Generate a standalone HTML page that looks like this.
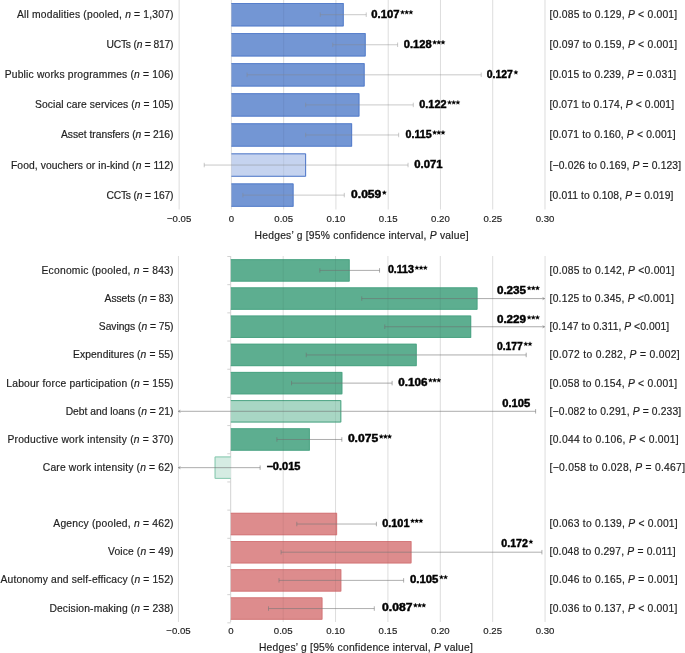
<!DOCTYPE html><html><head><meta charset="utf-8"><style>html,body{margin:0;padding:0;background:#fff;width:685px;height:653px;overflow:hidden}svg{display:block;will-change:transform}text{font-family:"Liberation Sans",sans-serif}</style></head><body>
<svg width="685" height="653" viewBox="0 0 685 653">
<g stroke="#dddddd" stroke-opacity="1" stroke-width="1">
<line x1="179.13" y1="0" x2="179.13" y2="209.5"/>
<line x1="231.40" y1="0" x2="231.40" y2="209.5"/>
<line x1="283.67" y1="0" x2="283.67" y2="209.5"/>
<line x1="335.93" y1="0" x2="335.93" y2="209.5"/>
<line x1="388.19" y1="0" x2="388.19" y2="209.5"/>
<line x1="440.46" y1="0" x2="440.46" y2="209.5"/>
<line x1="492.73" y1="0" x2="492.73" y2="209.5"/>
<line x1="544.99" y1="0" x2="544.99" y2="209.5"/>
</g>
<rect x="231.40" y="3.00" width="112.35" height="23.40" fill="#7396d4"/>
<path d="M231.40,3.50H343.25V25.90H231.40" stroke="#4f78c8" stroke-width="1" fill="none" stroke-opacity="0.8"/>
<rect x="231.40" y="33.07" width="134.30" height="23.40" fill="#7396d4"/>
<path d="M231.40,33.57H365.20V55.97H231.40" stroke="#4f78c8" stroke-width="1" fill="none" stroke-opacity="0.8"/>
<rect x="231.40" y="63.14" width="133.25" height="23.40" fill="#7396d4"/>
<path d="M231.40,63.64H364.15V86.04H231.40" stroke="#4f78c8" stroke-width="1" fill="none" stroke-opacity="0.8"/>
<rect x="231.40" y="93.21" width="128.03" height="23.40" fill="#7396d4"/>
<path d="M231.40,93.71H358.93V116.11H231.40" stroke="#4f78c8" stroke-width="1" fill="none" stroke-opacity="0.8"/>
<rect x="231.40" y="123.28" width="120.71" height="23.40" fill="#7396d4"/>
<path d="M231.40,123.78H351.61V146.18H231.40" stroke="#4f78c8" stroke-width="1" fill="none" stroke-opacity="0.8"/>
<rect x="231.40" y="153.35" width="74.72" height="23.40" fill="#c5d3ef"/>
<path d="M231.40,153.85H305.62V176.25H231.40" fill="none" stroke="#4f78c8" stroke-width="1"/>
<rect x="231.40" y="183.42" width="62.17" height="23.40" fill="#7396d4"/>
<path d="M231.40,183.92H293.07V206.32H231.40" stroke="#4f78c8" stroke-width="1" fill="none" stroke-opacity="0.8"/>
<clipPath id="c1"><rect x="231.40" y="3.00" width="112.35" height="23.40"/><rect x="231.40" y="33.07" width="134.30" height="23.40"/><rect x="231.40" y="63.14" width="133.25" height="23.40"/><rect x="231.40" y="93.21" width="128.03" height="23.40"/><rect x="231.40" y="123.28" width="120.71" height="23.40"/><rect x="231.40" y="153.35" width="74.72" height="23.40"/><rect x="231.40" y="183.42" width="62.17" height="23.40"/></clipPath>
<g stroke="#000" stroke-opacity="0.06" stroke-width="1" clip-path="url(#c1)">
<line x1="179.13" y1="0" x2="179.13" y2="209.5"/>
<line x1="231.40" y1="0" x2="231.40" y2="209.5"/>
<line x1="283.67" y1="0" x2="283.67" y2="209.5"/>
<line x1="335.93" y1="0" x2="335.93" y2="209.5"/>
<line x1="388.19" y1="0" x2="388.19" y2="209.5"/>
<line x1="440.46" y1="0" x2="440.46" y2="209.5"/>
<line x1="492.73" y1="0" x2="492.73" y2="209.5"/>
<line x1="544.99" y1="0" x2="544.99" y2="209.5"/>
</g>
<path d="M320.25,14.70H366.24M320.25,12.45V16.95M366.24,12.45V16.95" fill="none" stroke="#888" stroke-opacity="0.45" stroke-width="1"/>
<path d="M332.79,44.77H397.60M332.79,42.52V47.02M397.60,42.52V47.02" fill="none" stroke="#888" stroke-opacity="0.45" stroke-width="1"/>
<path d="M247.08,74.84H481.23M247.08,72.59V77.09M481.23,72.59V77.09" fill="none" stroke="#888" stroke-opacity="0.45" stroke-width="1"/>
<path d="M305.62,104.91H413.28M305.62,102.66V107.16M413.28,102.66V107.16" fill="none" stroke="#888" stroke-opacity="0.45" stroke-width="1"/>
<path d="M305.62,134.98H398.65M305.62,132.73V137.23M398.65,132.73V137.23" fill="none" stroke="#888" stroke-opacity="0.45" stroke-width="1"/>
<path d="M204.22,165.05H408.06M204.22,162.80V167.30M408.06,162.80V167.30" fill="none" stroke="#888" stroke-opacity="0.45" stroke-width="1"/>
<path d="M242.90,195.12H344.29M242.90,192.87V197.37M344.29,192.87V197.37" fill="none" stroke="#888" stroke-opacity="0.45" stroke-width="1"/>
<text x="173.50" y="18.20" font-size="10.3" text-anchor="end" stroke="#1e1e1e" stroke-width="0.18" fill="#1e1e1e" textLength="156.5" lengthAdjust="spacing">All modalities (pooled, <tspan font-style='italic'>n</tspan> = 1,307)</text>
<text x="371.30" y="17.90" font-size="10.5" font-weight="bold" stroke="#000" stroke-width="0.45" fill="#000" textLength="28.2" lengthAdjust="spacingAndGlyphs">0.107</text>
<path d="M402.50,10.00L403.12,11.45L404.69,11.59L403.50,12.62L403.85,14.16L402.50,13.35L401.15,14.16L401.50,12.62L400.31,11.59L401.88,11.45ZM406.70,10.00L407.32,11.45L408.89,11.59L407.70,12.62L408.05,14.16L406.70,13.35L405.35,14.16L405.70,12.62L404.51,11.59L406.08,11.45ZM410.90,10.00L411.52,11.45L413.09,11.59L411.90,12.62L412.25,14.16L410.90,13.35L409.55,14.16L409.90,12.62L408.71,11.59L410.28,11.45Z" fill="#000" stroke="#000" stroke-width="0.25" stroke-linejoin="round"/>
<text x="549.60" y="18.20" font-size="10.3" stroke="#1e1e1e" stroke-width="0.18" fill="#1e1e1e" textLength="127.6" lengthAdjust="spacing">[0.085 to 0.129, <tspan font-style='italic'>P</tspan> &lt; 0.001]</text>
<text x="173.50" y="48.27" font-size="10.3" text-anchor="end" stroke="#1e1e1e" stroke-width="0.18" fill="#1e1e1e" textLength="67.1" lengthAdjust="spacing">UCTs (<tspan font-style='italic'>n</tspan> = 817)</text>
<text x="403.80" y="47.97" font-size="10.5" font-weight="bold" stroke="#000" stroke-width="0.45" fill="#000" textLength="27.8" lengthAdjust="spacingAndGlyphs">0.128</text>
<path d="M434.60,40.07L435.22,41.52L436.79,41.66L435.60,42.69L435.95,44.23L434.60,43.42L433.25,44.23L433.60,42.69L432.41,41.66L433.98,41.52ZM438.80,40.07L439.42,41.52L440.99,41.66L439.80,42.69L440.15,44.23L438.80,43.42L437.45,44.23L437.80,42.69L436.61,41.66L438.18,41.52ZM443.00,40.07L443.62,41.52L445.19,41.66L444.00,42.69L444.35,44.23L443.00,43.42L441.65,44.23L442.00,42.69L440.81,41.66L442.38,41.52Z" fill="#000" stroke="#000" stroke-width="0.25" stroke-linejoin="round"/>
<text x="549.60" y="48.27" font-size="10.3" stroke="#1e1e1e" stroke-width="0.18" fill="#1e1e1e" textLength="127.6" lengthAdjust="spacing">[0.097 to 0.159, <tspan font-style='italic'>P</tspan> &lt; 0.001]</text>
<text x="173.50" y="78.34" font-size="10.3" text-anchor="end" stroke="#1e1e1e" stroke-width="0.18" fill="#1e1e1e" textLength="168.8" lengthAdjust="spacing">Public works programmes (<tspan font-style='italic'>n</tspan> = 106)</text>
<text x="486.80" y="78.04" font-size="10.5" font-weight="bold" stroke="#000" stroke-width="0.45" fill="#000" textLength="26.1" lengthAdjust="spacingAndGlyphs">0.127</text>
<path d="M515.90,70.14L516.52,71.59L518.09,71.73L516.90,72.76L517.25,74.30L515.90,73.49L514.55,74.30L514.90,72.76L513.71,71.73L515.28,71.59Z" fill="#000" stroke="#000" stroke-width="0.25" stroke-linejoin="round"/>
<text x="549.60" y="78.34" font-size="10.3" stroke="#1e1e1e" stroke-width="0.18" fill="#1e1e1e" textLength="126.6" lengthAdjust="spacing">[0.015 to 0.239, <tspan font-style='italic'>P</tspan> = 0.031]</text>
<text x="173.50" y="108.41" font-size="10.3" text-anchor="end" stroke="#1e1e1e" stroke-width="0.18" fill="#1e1e1e" textLength="138.5" lengthAdjust="spacing">Social care services (<tspan font-style='italic'>n</tspan> = 105)</text>
<text x="419.30" y="108.11" font-size="10.5" font-weight="bold" stroke="#000" stroke-width="0.45" fill="#000" textLength="27.2" lengthAdjust="spacingAndGlyphs">0.122</text>
<path d="M449.50,100.21L450.12,101.66L451.69,101.80L450.50,102.83L450.85,104.37L449.50,103.56L448.15,104.37L448.50,102.83L447.31,101.80L448.88,101.66ZM453.70,100.21L454.32,101.66L455.89,101.80L454.70,102.83L455.05,104.37L453.70,103.56L452.35,104.37L452.70,102.83L451.51,101.80L453.08,101.66ZM457.90,100.21L458.52,101.66L460.09,101.80L458.90,102.83L459.25,104.37L457.90,103.56L456.55,104.37L456.90,102.83L455.71,101.80L457.28,101.66Z" fill="#000" stroke="#000" stroke-width="0.25" stroke-linejoin="round"/>
<text x="549.60" y="108.41" font-size="10.3" stroke="#1e1e1e" stroke-width="0.18" fill="#1e1e1e" textLength="124.4" lengthAdjust="spacing">[0.071 to 0.174, <tspan font-style='italic'>P</tspan> &lt; 0.001]</text>
<text x="173.50" y="138.48" font-size="10.3" text-anchor="end" stroke="#1e1e1e" stroke-width="0.18" fill="#1e1e1e" textLength="112.5" lengthAdjust="spacing">Asset transfers (<tspan font-style='italic'>n</tspan> = 216)</text>
<text x="405.50" y="138.18" font-size="10.5" font-weight="bold" stroke="#000" stroke-width="0.45" fill="#000" textLength="26.1" lengthAdjust="spacingAndGlyphs">0.115</text>
<path d="M434.60,130.28L435.22,131.73L436.79,131.87L435.60,132.90L435.95,134.44L434.60,133.63L433.25,134.44L433.60,132.90L432.41,131.87L433.98,131.73ZM438.80,130.28L439.42,131.73L440.99,131.87L439.80,132.90L440.15,134.44L438.80,133.63L437.45,134.44L437.80,132.90L436.61,131.87L438.18,131.73ZM443.00,130.28L443.62,131.73L445.19,131.87L444.00,132.90L444.35,134.44L443.00,133.63L441.65,134.44L442.00,132.90L440.81,131.87L442.38,131.73Z" fill="#000" stroke="#000" stroke-width="0.25" stroke-linejoin="round"/>
<text x="549.60" y="138.48" font-size="10.3" stroke="#1e1e1e" stroke-width="0.18" fill="#1e1e1e" textLength="126.0" lengthAdjust="spacing">[0.071 to 0.160, <tspan font-style='italic'>P</tspan> &lt; 0.001]</text>
<text x="173.50" y="168.55" font-size="10.3" text-anchor="end" stroke="#1e1e1e" stroke-width="0.18" fill="#1e1e1e" textLength="162.5" lengthAdjust="spacing">Food, vouchers or in-kind (<tspan font-style='italic'>n</tspan> = 112)</text>
<text x="414.30" y="168.25" font-size="10.5" font-weight="bold" stroke="#000" stroke-width="0.45" fill="#000" textLength="28.3" lengthAdjust="spacingAndGlyphs">0.071</text>
<text x="549.60" y="168.55" font-size="10.3" stroke="#1e1e1e" stroke-width="0.18" fill="#1e1e1e" textLength="131.5" lengthAdjust="spacing">[−0.026 to 0.169, <tspan font-style='italic'>P</tspan> = 0.123]</text>
<text x="173.50" y="198.62" font-size="10.3" text-anchor="end" stroke="#1e1e1e" stroke-width="0.18" fill="#1e1e1e" textLength="67.1" lengthAdjust="spacing">CCTs (<tspan font-style='italic'>n</tspan> = 167)</text>
<text x="351.10" y="198.32" font-size="10.5" font-weight="bold" stroke="#000" stroke-width="0.45" fill="#000" textLength="30.2" lengthAdjust="spacingAndGlyphs">0.059</text>
<path d="M384.30,190.42L384.92,191.87L386.49,192.01L385.30,193.04L385.65,194.58L384.30,193.77L382.95,194.58L383.30,193.04L382.11,192.01L383.68,191.87Z" fill="#000" stroke="#000" stroke-width="0.25" stroke-linejoin="round"/>
<text x="549.60" y="198.62" font-size="10.3" stroke="#1e1e1e" stroke-width="0.18" fill="#1e1e1e" textLength="123.8" lengthAdjust="spacing">[0.011 to 0.108, <tspan font-style='italic'>P</tspan> = 0.019]</text>
<text x="179.13" y="221.70" font-size="9.6" text-anchor="middle" stroke="#1e1e1e" stroke-width="0.18" fill="#1e1e1e">−0.05</text>
<text x="231.40" y="221.70" font-size="9.6" text-anchor="middle" stroke="#1e1e1e" stroke-width="0.18" fill="#1e1e1e">0</text>
<text x="283.67" y="221.70" font-size="9.6" text-anchor="middle" stroke="#1e1e1e" stroke-width="0.18" fill="#1e1e1e">0.05</text>
<text x="335.93" y="221.70" font-size="9.6" text-anchor="middle" stroke="#1e1e1e" stroke-width="0.18" fill="#1e1e1e">0.10</text>
<text x="388.19" y="221.70" font-size="9.6" text-anchor="middle" stroke="#1e1e1e" stroke-width="0.18" fill="#1e1e1e">0.15</text>
<text x="440.46" y="221.70" font-size="9.6" text-anchor="middle" stroke="#1e1e1e" stroke-width="0.18" fill="#1e1e1e">0.20</text>
<text x="492.73" y="221.70" font-size="9.6" text-anchor="middle" stroke="#1e1e1e" stroke-width="0.18" fill="#1e1e1e">0.25</text>
<text x="544.99" y="221.70" font-size="9.6" text-anchor="middle" stroke="#1e1e1e" stroke-width="0.18" fill="#1e1e1e">0.30</text>
<text x="361.60" y="239.00" font-size="10.3" text-anchor="middle" stroke="#1e1e1e" stroke-width="0.18" fill="#1e1e1e" textLength="214.0" lengthAdjust="spacing">Hedges’ g [95% confidence interval, <tspan font-style='italic'>P</tspan> value]</text>
<g stroke="#dddddd" stroke-opacity="1" stroke-width="1">
<line x1="178.43" y1="256" x2="178.43" y2="622"/>
<line x1="283.18" y1="256" x2="283.18" y2="622"/>
<line x1="335.55" y1="256" x2="335.55" y2="622"/>
<line x1="387.93" y1="256" x2="387.93" y2="622"/>
<line x1="440.30" y1="256" x2="440.30" y2="622"/>
<line x1="492.68" y1="256" x2="492.68" y2="622"/>
<line x1="545.05" y1="256" x2="545.05" y2="622"/>
</g>
<path d="M230.70,256V622M227.3,256.50H230.80M227.3,284.68H230.80M227.3,312.86H230.80M227.3,341.04H230.80M227.3,369.22H230.80M227.3,397.40H230.80M227.3,425.58H230.80M227.3,453.76H230.80M227.3,481.94H230.80M227.3,510.12H230.80M227.3,538.30H230.80M227.3,566.48H230.80M227.3,594.66H230.80M227.3,622.84H230.80" stroke="#d2d2d2" stroke-width="1" fill="none"/>
<rect x="230.80" y="259.20" width="118.87" height="22.40" fill="#5dae90"/>
<path d="M230.80,259.70H349.17V281.10H230.80" stroke="#4aa382" stroke-width="1" fill="none" stroke-opacity="0.8"/>
<rect x="230.80" y="287.38" width="246.66" height="22.40" fill="#5dae90"/>
<path d="M230.80,287.88H476.96V309.28H230.80" stroke="#4aa382" stroke-width="1" fill="none" stroke-opacity="0.8"/>
<rect x="230.80" y="315.56" width="240.38" height="22.40" fill="#5dae90"/>
<path d="M230.80,316.06H470.68V337.46H230.80" stroke="#4aa382" stroke-width="1" fill="none" stroke-opacity="0.8"/>
<rect x="230.80" y="343.74" width="185.91" height="22.40" fill="#5dae90"/>
<path d="M230.80,344.24H416.21V365.64H230.80" stroke="#4aa382" stroke-width="1" fill="none" stroke-opacity="0.8"/>
<rect x="230.80" y="371.92" width="111.54" height="22.40" fill="#5dae90"/>
<path d="M230.80,372.42H341.84V393.82H230.80" stroke="#4aa382" stroke-width="1" fill="none" stroke-opacity="0.8"/>
<rect x="230.80" y="400.10" width="110.49" height="22.40" fill="#a8d6c4"/>
<path d="M230.80,400.60H340.79V422.00H230.80" fill="none" stroke="#4fa585" stroke-width="1"/>
<rect x="230.80" y="428.28" width="79.06" height="22.40" fill="#5dae90"/>
<path d="M230.80,428.78H309.36V450.18H230.80" stroke="#4aa382" stroke-width="1" fill="none" stroke-opacity="0.8"/>
<rect x="214.59" y="456.46" width="16.21" height="22.40" fill="#d5ece3"/>
<path d="M230.80,456.96H215.09V478.36H230.80" fill="none" stroke="#86c8ae" stroke-width="1"/>
<rect x="230.80" y="512.82" width="106.30" height="22.40" fill="#dd8c8d"/>
<path d="M230.80,513.32H336.60V534.72H230.80" stroke="#d27477" stroke-width="1" fill="none" stroke-opacity="0.8"/>
<rect x="230.80" y="541.00" width="180.67" height="22.40" fill="#dd8c8d"/>
<path d="M230.80,541.50H410.97V562.90H230.80" stroke="#d27477" stroke-width="1" fill="none" stroke-opacity="0.8"/>
<rect x="230.80" y="569.18" width="110.49" height="22.40" fill="#dd8c8d"/>
<path d="M230.80,569.68H340.79V591.08H230.80" stroke="#d27477" stroke-width="1" fill="none" stroke-opacity="0.8"/>
<rect x="230.80" y="597.36" width="91.63" height="22.40" fill="#dd8c8d"/>
<path d="M230.80,597.86H321.93V619.26H230.80" stroke="#d27477" stroke-width="1" fill="none" stroke-opacity="0.8"/>
<clipPath id="c2"><rect x="230.30" y="259.20" width="119.37" height="22.40"/><rect x="230.30" y="287.38" width="247.16" height="22.40"/><rect x="230.30" y="315.56" width="240.88" height="22.40"/><rect x="230.30" y="343.74" width="186.41" height="22.40"/><rect x="230.30" y="371.92" width="112.04" height="22.40"/><rect x="230.30" y="400.10" width="110.99" height="22.40"/><rect x="230.30" y="428.28" width="79.56" height="22.40"/><rect x="214.59" y="456.46" width="16.71" height="22.40"/><rect x="230.30" y="512.82" width="106.80" height="22.40"/><rect x="230.30" y="541.00" width="181.17" height="22.40"/><rect x="230.30" y="569.18" width="110.99" height="22.40"/><rect x="230.30" y="597.36" width="92.13" height="22.40"/></clipPath>
<g stroke="#000" stroke-opacity="0.06" stroke-width="1" clip-path="url(#c2)">
<line x1="178.43" y1="256" x2="178.43" y2="622"/>
<line x1="283.18" y1="256" x2="283.18" y2="622"/>
<line x1="335.55" y1="256" x2="335.55" y2="622"/>
<line x1="387.93" y1="256" x2="387.93" y2="622"/>
<line x1="440.30" y1="256" x2="440.30" y2="622"/>
<line x1="492.68" y1="256" x2="492.68" y2="622"/>
<line x1="545.05" y1="256" x2="545.05" y2="622"/>
</g>
<path d="M319.84,270.40H379.54M319.84,268.15V272.65M379.54,268.15V272.65" fill="none" stroke="#707070" stroke-opacity="0.58" stroke-width="1"/>
<path d="M361.74,298.58H544.55M361.74,296.33V300.83M542.55,297.48L544.55,298.58L542.55,299.68" fill="none" stroke="#707070" stroke-opacity="0.58" stroke-width="1"/>
<path d="M384.78,326.76H544.55M384.78,324.51V329.01M542.55,325.66L544.55,326.76L542.55,327.86" fill="none" stroke="#707070" stroke-opacity="0.58" stroke-width="1"/>
<path d="M306.22,354.94H526.19M306.22,352.69V357.19M526.19,352.69V357.19" fill="none" stroke="#707070" stroke-opacity="0.58" stroke-width="1"/>
<path d="M291.56,383.12H392.12M291.56,380.87V385.37M392.12,380.87V385.37" fill="none" stroke="#707070" stroke-opacity="0.58" stroke-width="1"/>
<path d="M178.43,411.30H535.62M180.43,410.20L178.43,411.30L180.43,412.40M535.62,409.05V413.55" fill="none" stroke="#707070" stroke-opacity="0.58" stroke-width="1"/>
<path d="M276.89,439.48H341.84M276.89,437.23V441.73M341.84,437.23V441.73" fill="none" stroke="#707070" stroke-opacity="0.58" stroke-width="1"/>
<path d="M178.43,467.66H260.13M180.43,466.56L178.43,467.66L180.43,468.76M260.13,465.41V469.91" fill="none" stroke="#707070" stroke-opacity="0.58" stroke-width="1"/>
<path d="M296.79,524.02H376.40M296.79,521.77V526.27M376.40,521.77V526.27" fill="none" stroke="#777" stroke-opacity="0.58" stroke-width="1"/>
<path d="M281.08,552.20H541.91M281.08,549.95V554.45M541.91,549.95V554.45" fill="none" stroke="#777" stroke-opacity="0.58" stroke-width="1"/>
<path d="M278.99,580.38H403.64M278.99,578.13V582.63M403.64,578.13V582.63" fill="none" stroke="#777" stroke-opacity="0.58" stroke-width="1"/>
<path d="M268.51,608.56H374.31M268.51,606.31V610.81M374.31,606.31V610.81" fill="none" stroke="#777" stroke-opacity="0.58" stroke-width="1"/>
<text x="173.50" y="274.00" font-size="10.3" text-anchor="end" stroke="#1e1e1e" stroke-width="0.18" fill="#1e1e1e" textLength="132.0" lengthAdjust="spacing">Economic (pooled, <tspan font-style='italic'>n</tspan> = 843)</text>
<text x="387.90" y="273.40" font-size="10.5" font-weight="bold" stroke="#000" stroke-width="0.45" fill="#000" textLength="26.0" lengthAdjust="spacingAndGlyphs">0.113</text>
<path d="M416.90,265.50L417.52,266.95L419.09,267.09L417.90,268.12L418.25,269.66L416.90,268.85L415.55,269.66L415.90,268.12L414.71,267.09L416.28,266.95ZM421.10,265.50L421.72,266.95L423.29,267.09L422.10,268.12L422.45,269.66L421.10,268.85L419.75,269.66L420.10,268.12L418.91,267.09L420.48,266.95ZM425.30,265.50L425.92,266.95L427.49,267.09L426.30,268.12L426.65,269.66L425.30,268.85L423.95,269.66L424.30,268.12L423.11,267.09L424.68,266.95Z" fill="#000" stroke="#000" stroke-width="0.25" stroke-linejoin="round"/>
<text x="549.60" y="274.00" font-size="10.3" stroke="#1e1e1e" stroke-width="0.18" fill="#1e1e1e" textLength="124.8" lengthAdjust="spacing">[0.085 to 0.142, <tspan font-style='italic'>P</tspan> &lt;0.001]</text>
<text x="173.50" y="302.13" font-size="10.3" text-anchor="end" stroke="#1e1e1e" stroke-width="0.18" fill="#1e1e1e" textLength="68.9" lengthAdjust="spacing">Assets (<tspan font-style='italic'>n</tspan> = 83)</text>
<text x="496.90" y="293.70" font-size="10.5" font-weight="bold" stroke="#000" stroke-width="0.45" fill="#000" textLength="29.2" lengthAdjust="spacingAndGlyphs">0.235</text>
<path d="M529.10,285.80L529.72,287.25L531.29,287.39L530.10,288.42L530.45,289.96L529.10,289.15L527.75,289.96L528.10,288.42L526.91,287.39L528.48,287.25ZM533.30,285.80L533.92,287.25L535.49,287.39L534.30,288.42L534.65,289.96L533.30,289.15L531.95,289.96L532.30,288.42L531.11,287.39L532.68,287.25ZM537.50,285.80L538.12,287.25L539.69,287.39L538.50,288.42L538.85,289.96L537.50,289.15L536.15,289.96L536.50,288.42L535.31,287.39L536.88,287.25Z" fill="#000" stroke="#000" stroke-width="0.25" stroke-linejoin="round"/>
<text x="549.60" y="302.13" font-size="10.3" stroke="#1e1e1e" stroke-width="0.18" fill="#1e1e1e" textLength="124.2" lengthAdjust="spacing">[0.125 to 0.345, <tspan font-style='italic'>P</tspan> &lt;0.001]</text>
<text x="173.50" y="330.26" font-size="10.3" text-anchor="end" stroke="#1e1e1e" stroke-width="0.18" fill="#1e1e1e" textLength="74.7" lengthAdjust="spacing">Savings (<tspan font-style='italic'>n</tspan> = 75)</text>
<text x="496.90" y="323.10" font-size="10.5" font-weight="bold" stroke="#000" stroke-width="0.45" fill="#000" textLength="29.2" lengthAdjust="spacingAndGlyphs">0.229</text>
<path d="M529.10,315.20L529.72,316.65L531.29,316.79L530.10,317.82L530.45,319.36L529.10,318.55L527.75,319.36L528.10,317.82L526.91,316.79L528.48,316.65ZM533.30,315.20L533.92,316.65L535.49,316.79L534.30,317.82L534.65,319.36L533.30,318.55L531.95,319.36L532.30,317.82L531.11,316.79L532.68,316.65ZM537.50,315.20L538.12,316.65L539.69,316.79L538.50,317.82L538.85,319.36L537.50,318.55L536.15,319.36L536.50,317.82L535.31,316.79L536.88,316.65Z" fill="#000" stroke="#000" stroke-width="0.25" stroke-linejoin="round"/>
<text x="549.60" y="330.26" font-size="10.3" stroke="#1e1e1e" stroke-width="0.18" fill="#1e1e1e" textLength="119.5" lengthAdjust="spacing">[0.147 to 0.311, <tspan font-style='italic'>P</tspan> &lt;0.001]</text>
<text x="173.50" y="358.39" font-size="10.3" text-anchor="end" stroke="#1e1e1e" stroke-width="0.18" fill="#1e1e1e" textLength="100.5" lengthAdjust="spacing">Expenditures (<tspan font-style='italic'>n</tspan> = 55)</text>
<text x="496.90" y="349.60" font-size="10.5" font-weight="bold" stroke="#000" stroke-width="0.45" fill="#000" textLength="25.9" lengthAdjust="spacingAndGlyphs">0.177</text>
<path d="M525.80,341.70L526.42,343.15L527.99,343.29L526.80,344.32L527.15,345.86L525.80,345.05L524.45,345.86L524.80,344.32L523.61,343.29L525.18,343.15ZM530.00,341.70L530.62,343.15L532.19,343.29L531.00,344.32L531.35,345.86L530.00,345.05L528.65,345.86L529.00,344.32L527.81,343.29L529.38,343.15Z" fill="#000" stroke="#000" stroke-width="0.25" stroke-linejoin="round"/>
<text x="549.60" y="358.39" font-size="10.3" stroke="#1e1e1e" stroke-width="0.18" fill="#1e1e1e" textLength="130.1" lengthAdjust="spacing">[0.072 to 0.282, <tspan font-style='italic'>P</tspan> = 0.002]</text>
<text x="173.50" y="386.52" font-size="10.3" text-anchor="end" stroke="#1e1e1e" stroke-width="0.18" fill="#1e1e1e" textLength="167.2" lengthAdjust="spacing">Labour force participation (<tspan font-style='italic'>n</tspan> = 155)</text>
<text x="398.20" y="385.92" font-size="10.5" font-weight="bold" stroke="#000" stroke-width="0.45" fill="#000" textLength="29.2" lengthAdjust="spacingAndGlyphs">0.106</text>
<path d="M430.40,378.02L431.02,379.47L432.59,379.61L431.40,380.64L431.75,382.18L430.40,381.37L429.05,382.18L429.40,380.64L428.21,379.61L429.78,379.47ZM434.60,378.02L435.22,379.47L436.79,379.61L435.60,380.64L435.95,382.18L434.60,381.37L433.25,382.18L433.60,380.64L432.41,379.61L433.98,379.47ZM438.80,378.02L439.42,379.47L440.99,379.61L439.80,380.64L440.15,382.18L438.80,381.37L437.45,382.18L437.80,380.64L436.61,379.61L438.18,379.47Z" fill="#000" stroke="#000" stroke-width="0.25" stroke-linejoin="round"/>
<text x="549.60" y="386.52" font-size="10.3" stroke="#1e1e1e" stroke-width="0.18" fill="#1e1e1e" textLength="127.6" lengthAdjust="spacing">[0.058 to 0.154, <tspan font-style='italic'>P</tspan> &lt; 0.001]</text>
<text x="173.50" y="414.65" font-size="10.3" text-anchor="end" stroke="#1e1e1e" stroke-width="0.18" fill="#1e1e1e" textLength="107.8" lengthAdjust="spacing">Debt and loans (<tspan font-style='italic'>n</tspan> = 21)</text>
<text x="502.20" y="407.00" font-size="10.5" font-weight="bold" stroke="#000" stroke-width="0.45" fill="#000" textLength="28.0" lengthAdjust="spacingAndGlyphs">0.105</text>
<text x="549.60" y="414.65" font-size="10.3" stroke="#1e1e1e" stroke-width="0.18" fill="#1e1e1e" textLength="131.6" lengthAdjust="spacing">[−0.082 to 0.291, <tspan font-style='italic'>P</tspan> = 0.233]</text>
<text x="173.50" y="442.78" font-size="10.3" text-anchor="end" stroke="#1e1e1e" stroke-width="0.18" fill="#1e1e1e" textLength="166.1" lengthAdjust="spacing">Productive work intensity (<tspan font-style='italic'>n</tspan> = 370)</text>
<text x="347.90" y="442.18" font-size="10.5" font-weight="bold" stroke="#000" stroke-width="0.45" fill="#000" textLength="30.3" lengthAdjust="spacingAndGlyphs">0.075</text>
<path d="M381.20,434.28L381.82,435.73L383.39,435.87L382.20,436.90L382.55,438.44L381.20,437.63L379.85,438.44L380.20,436.90L379.01,435.87L380.58,435.73ZM385.40,434.28L386.02,435.73L387.59,435.87L386.40,436.90L386.75,438.44L385.40,437.63L384.05,438.44L384.40,436.90L383.21,435.87L384.78,435.73ZM389.60,434.28L390.22,435.73L391.79,435.87L390.60,436.90L390.95,438.44L389.60,437.63L388.25,438.44L388.60,436.90L387.41,435.87L388.98,435.73Z" fill="#000" stroke="#000" stroke-width="0.25" stroke-linejoin="round"/>
<text x="549.60" y="442.78" font-size="10.3" stroke="#1e1e1e" stroke-width="0.18" fill="#1e1e1e" textLength="129.1" lengthAdjust="spacing">[0.044 to 0.106, <tspan font-style='italic'>P</tspan> &lt; 0.001]</text>
<text x="173.50" y="470.91" font-size="10.3" text-anchor="end" stroke="#1e1e1e" stroke-width="0.18" fill="#1e1e1e" textLength="130.7" lengthAdjust="spacing">Care work intensity (<tspan font-style='italic'>n</tspan> = 62)</text>
<text x="266.40" y="470.31" font-size="10.5" font-weight="bold" stroke="#000" stroke-width="0.45" fill="#000" textLength="34.0" lengthAdjust="spacingAndGlyphs">−0.015</text>
<text x="549.60" y="470.91" font-size="10.3" stroke="#1e1e1e" stroke-width="0.18" fill="#1e1e1e" textLength="135.4" lengthAdjust="spacing">[−0.058 to 0.028, <tspan font-style='italic'>P</tspan> = 0.467]</text>
<text x="173.50" y="527.17" font-size="10.3" text-anchor="end" stroke="#1e1e1e" stroke-width="0.18" fill="#1e1e1e" textLength="120.2" lengthAdjust="spacing">Agency (pooled, <tspan font-style='italic'>n</tspan> = 462)</text>
<text x="382.20" y="526.57" font-size="10.5" font-weight="bold" stroke="#000" stroke-width="0.45" fill="#000" textLength="27.3" lengthAdjust="spacingAndGlyphs">0.101</text>
<path d="M412.50,518.67L413.12,520.12L414.69,520.26L413.50,521.29L413.85,522.83L412.50,522.02L411.15,522.83L411.50,521.29L410.31,520.26L411.88,520.12ZM416.70,518.67L417.32,520.12L418.89,520.26L417.70,521.29L418.05,522.83L416.70,522.02L415.35,522.83L415.70,521.29L414.51,520.26L416.08,520.12ZM420.90,518.67L421.52,520.12L423.09,520.26L421.90,521.29L422.25,522.83L420.90,522.02L419.55,522.83L419.90,521.29L418.71,520.26L420.28,520.12Z" fill="#000" stroke="#000" stroke-width="0.25" stroke-linejoin="round"/>
<text x="549.60" y="527.17" font-size="10.3" stroke="#1e1e1e" stroke-width="0.18" fill="#1e1e1e" textLength="128.1" lengthAdjust="spacing">[0.063 to 0.139, <tspan font-style='italic'>P</tspan> &lt; 0.001]</text>
<text x="173.50" y="555.30" font-size="10.3" text-anchor="end" stroke="#1e1e1e" stroke-width="0.18" fill="#1e1e1e" textLength="65.5" lengthAdjust="spacing">Voice (<tspan font-style='italic'>n</tspan> = 49)</text>
<text x="501.30" y="547.40" font-size="10.5" font-weight="bold" stroke="#000" stroke-width="0.45" fill="#000" textLength="26.6" lengthAdjust="spacingAndGlyphs">0.172</text>
<path d="M530.90,539.50L531.52,540.95L533.09,541.09L531.90,542.12L532.25,543.66L530.90,542.85L529.55,543.66L529.90,542.12L528.71,541.09L530.28,540.95Z" fill="#000" stroke="#000" stroke-width="0.25" stroke-linejoin="round"/>
<text x="549.60" y="555.30" font-size="10.3" stroke="#1e1e1e" stroke-width="0.18" fill="#1e1e1e" textLength="125.9" lengthAdjust="spacing">[0.048 to 0.297, <tspan font-style='italic'>P</tspan> = 0.011]</text>
<text x="173.50" y="583.43" font-size="10.3" text-anchor="end" stroke="#1e1e1e" stroke-width="0.18" fill="#1e1e1e" textLength="173.0" lengthAdjust="spacing">Autonomy and self-efficacy (<tspan font-style='italic'>n</tspan> = 152)</text>
<text x="410.00" y="582.83" font-size="10.5" font-weight="bold" stroke="#000" stroke-width="0.45" fill="#000" textLength="28.4" lengthAdjust="spacingAndGlyphs">0.105</text>
<path d="M441.40,574.93L442.02,576.38L443.59,576.52L442.40,577.55L442.75,579.09L441.40,578.28L440.05,579.09L440.40,577.55L439.21,576.52L440.78,576.38ZM445.60,574.93L446.22,576.38L447.79,576.52L446.60,577.55L446.95,579.09L445.60,578.28L444.25,579.09L444.60,577.55L443.41,576.52L444.98,576.38Z" fill="#000" stroke="#000" stroke-width="0.25" stroke-linejoin="round"/>
<text x="549.60" y="583.43" font-size="10.3" stroke="#1e1e1e" stroke-width="0.18" fill="#1e1e1e" textLength="127.9" lengthAdjust="spacing">[0.046 to 0.165, <tspan font-style='italic'>P</tspan> = 0.001]</text>
<text x="173.50" y="611.56" font-size="10.3" text-anchor="end" stroke="#1e1e1e" stroke-width="0.18" fill="#1e1e1e" textLength="124.1" lengthAdjust="spacing">Decision-making (<tspan font-style='italic'>n</tspan> = 238)</text>
<text x="382.00" y="610.96" font-size="10.5" font-weight="bold" stroke="#000" stroke-width="0.45" fill="#000" textLength="30.4" lengthAdjust="spacingAndGlyphs">0.087</text>
<path d="M415.40,603.06L416.02,604.51L417.59,604.65L416.40,605.68L416.75,607.22L415.40,606.41L414.05,607.22L414.40,605.68L413.21,604.65L414.78,604.51ZM419.60,603.06L420.22,604.51L421.79,604.65L420.60,605.68L420.95,607.22L419.60,606.41L418.25,607.22L418.60,605.68L417.41,604.65L418.98,604.51ZM423.80,603.06L424.42,604.51L425.99,604.65L424.80,605.68L425.15,607.22L423.80,606.41L422.45,607.22L422.80,605.68L421.61,604.65L423.18,604.51Z" fill="#000" stroke="#000" stroke-width="0.25" stroke-linejoin="round"/>
<text x="549.60" y="611.56" font-size="10.3" stroke="#1e1e1e" stroke-width="0.18" fill="#1e1e1e" textLength="127.7" lengthAdjust="spacing">[0.036 to 0.137, <tspan font-style='italic'>P</tspan> &lt; 0.001]</text>
<text x="178.43" y="633.80" font-size="9.6" text-anchor="middle" stroke="#1e1e1e" stroke-width="0.18" fill="#1e1e1e">−0.05</text>
<text x="230.80" y="633.80" font-size="9.6" text-anchor="middle" stroke="#1e1e1e" stroke-width="0.18" fill="#1e1e1e">0</text>
<text x="283.18" y="633.80" font-size="9.6" text-anchor="middle" stroke="#1e1e1e" stroke-width="0.18" fill="#1e1e1e">0.05</text>
<text x="335.55" y="633.80" font-size="9.6" text-anchor="middle" stroke="#1e1e1e" stroke-width="0.18" fill="#1e1e1e">0.10</text>
<text x="387.93" y="633.80" font-size="9.6" text-anchor="middle" stroke="#1e1e1e" stroke-width="0.18" fill="#1e1e1e">0.15</text>
<text x="440.30" y="633.80" font-size="9.6" text-anchor="middle" stroke="#1e1e1e" stroke-width="0.18" fill="#1e1e1e">0.20</text>
<text x="492.68" y="633.80" font-size="9.6" text-anchor="middle" stroke="#1e1e1e" stroke-width="0.18" fill="#1e1e1e">0.25</text>
<text x="545.05" y="633.80" font-size="9.6" text-anchor="middle" stroke="#1e1e1e" stroke-width="0.18" fill="#1e1e1e">0.30</text>
<text x="365.90" y="651.00" font-size="10.3" text-anchor="middle" stroke="#1e1e1e" stroke-width="0.18" fill="#1e1e1e" textLength="214.0" lengthAdjust="spacing">Hedges’ g [95% confidence interval, <tspan font-style='italic'>P</tspan> value]</text>
</svg></body></html>
